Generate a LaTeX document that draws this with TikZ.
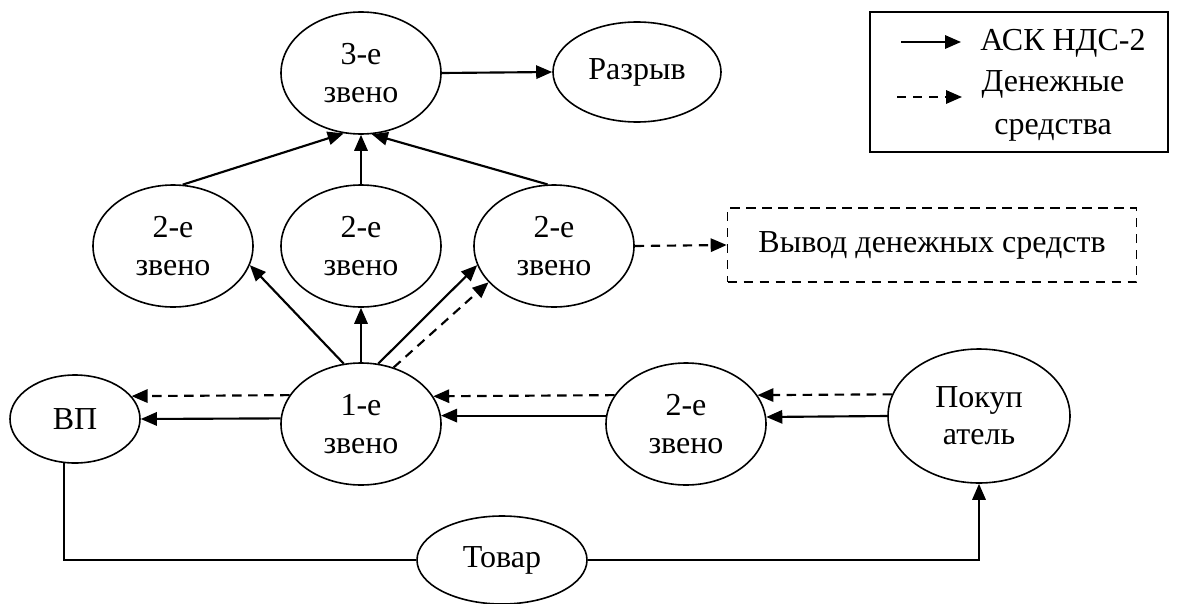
\documentclass[tikz,border=0pt]{standalone}
\usepackage{fontspec}
\setmainfont{Liberation Serif}
\usetikzlibrary{arrows.meta,shapes.geometric}
\newlength{\du}
\setlength{\du}{0.75pt}
\tikzset{
  zveno/.style={ellipse, draw, line width=1.2pt, inner sep=0pt, align=center,
    minimum width=160\du, minimum height=122\du},
  flow/.style={line width=1.6pt, -{Triangle[length=12pt,width=10pt]}},
  money/.style={flow, dash pattern=on 7pt off 5pt},
  plain/.style={line width=1.2pt},
}

\begin{document}
\begin{tikzpicture}[font=\fontsize{24pt}{28pt}\selectfont]
\pgftransformxscale{1.000000}
\pgftransformyscale{-1.000000}
\useasboundingbox (0\du,0\du) rectangle (1177\du,603\du);
% top
\node[zveno] (n3) at (361\du,73\du) {3-е\\звено};
\node[zveno, minimum width=168\du, minimum height=100\du] (raz) at (637\du,72\du) {Разрыв};
\draw[flow] (n3.east) -- (raz.west);
% second row
\node[zveno] (a2) at (173\du,246\du) {2-е\\звено};
\node[zveno] (m2) at (361\du,246\du) {2-е\\звено};
\node[zveno] (c2) at (554\du,246\du) {2-е\\звено};
\draw[flow] (a2.81) -- (n3.254);
\draw[flow] (m2.north) -- (n3.south);
\draw[flow] (c2.96) -- (n3.280);
\node[draw, plain, dash pattern=on 7pt off 5pt, minimum width=409\du, minimum height=74\du] (vyvod) at (932\du,245\du) {Вывод денежных средств};
\draw[money] (c2.east) -- (vyvod.west);
% bottom row
\node[zveno] (l1) at (361\du,424\du) {1-е\\звено};
\node[ellipse, draw, plain, inner sep=0pt, minimum width=130\du, minimum height=88\du] (vp) at (75\du,419\du) {ВП};
\node[zveno] (b2) at (686\du,424\du) {2-е\\звено};
\node[zveno, minimum width=182\du, minimum height=134\du] (pok) at (979\du,416\du) {Покуп\\атель};
\node[ellipse, draw, plain, inner sep=0pt, minimum width=170\du, minimum height=88\du] (tov) at (502\du,560\du) {Товар};
\draw[flow] (l1.106) -- (a2.-14);
\draw[flow] (l1.north) -- (m2.south);
\draw[flow] (l1.74) -- (c2.194);
\draw[money] (l1.60) -- (c2.209);
\draw[money] (pok.166) -- (b2.22);
\draw[flow] (pok.180) -- (b2.5);
\draw[money] (b2.158) -- (l1.21);
\draw[flow] (b2.174) -- (l1.6);
\draw[money] (l1.158) -- (vp.22);
\draw[flow] (l1.176) -- (vp.east);
\draw[plain] (vp.256) |- (tov.west);
\draw[flow] (tov.east) -| (pok.south);
% legend
\draw[plain] (870\du,12\du) rectangle (1168\du,152\du);
\coordinate (k1) at (901\du,42\du);
\coordinate (k2) at (961\du,42\du);
\coordinate (d1) at (897\du,97\du);
\coordinate (d2) at (962\du,97\du);
\draw[flow] (k1) -- (k2);
\draw[money] (d1) -- (d2);
\node (ask) at (1063\du,43\du) {АСК НДС-2};
\node[align=center, font=\fontsize{24pt}{32pt}\selectfont] (den) at (1053\du,106\du) {Денежные\\средства};
\end{tikzpicture}
\end{document}
